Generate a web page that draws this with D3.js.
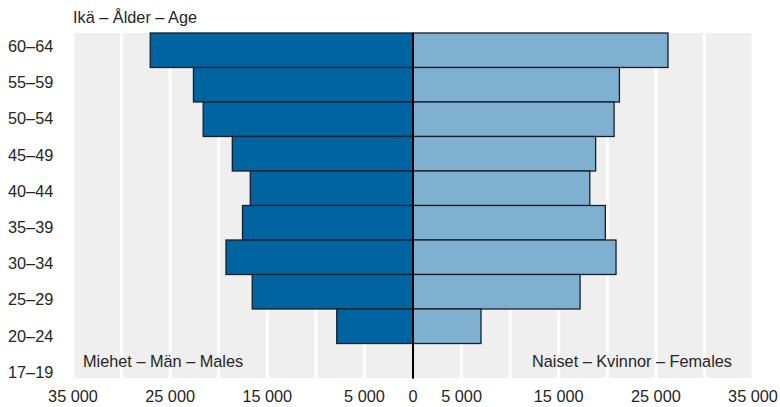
<!DOCTYPE html>
<html><head><meta charset="utf-8">
<script src="https://cdn.jsdelivr.net/npm/d3@7"></script>
<style>body{margin:0;background:#fff;} text{font-family:"Liberation Sans",Arial,sans-serif;fill:#262626;}</style>
</head><body><svg id="c" width="780" height="407"></svg>
<script>
const ageGroups = ["60–64","55–59","50–54","45–49","40–44","35–39","30–34","25–29","20–24","17–19"];
const males   = [27050,22600,21600,18600,16750,17550,19250,16550,7850,40];
const females = [26250,21250,20700,18800,18200,19800,20900,17200,7000,40];
const tickValues = [-35000,-25000,-15000,-5000,0,5000,15000,25000,35000];
const gridValues = [-35000,-30000,-25000,-20000,-15000,-10000,-5000,5000,10000,15000,20000,25000,30000,35000];
const title = "Ikä – Ålder – Age";
const maleLabel = "Miehet – Män – Males";
const femaleLabel = "Naiset – Kvinnor – Females";

const svg = d3.select("#c");
const L = 73, R = 753, T = 33, B = 378;
const FS = 16.3;
const x = d3.scaleLinear().domain([-35000,35000]).range([L,R]);
const y = d3.scaleBand().domain(ageGroups).range([T,B]).padding(0);
const yLab = d3.scalePoint().domain(ageGroups).range([46,372]);

svg.append("rect").attr("x",L).attr("y",T).attr("width",R-L).attr("height",B-T).attr("fill","#efefef");
svg.selectAll("line.grid").data(gridValues).enter().append("line")
  .attr("x1",d=>x(d)).attr("x2",d=>x(d)).attr("y1",T).attr("y2",B)
  .attr("stroke","#fff").attr("stroke-width",3);

svg.selectAll("rect.m").data(ageGroups).enter().append("rect")
  .attr("x",(d,i)=>x(-males[i])).attr("width",(d,i)=>x(0)-x(-males[i]))
  .attr("y",d=>y(d)).attr("height",y.bandwidth())
  .attr("fill","#0064a0").attr("stroke","#14202a").attr("stroke-width",1.3);
svg.selectAll("rect.f").data(ageGroups).enter().append("rect")
  .attr("x",x(0)).attr("width",(d,i)=>x(females[i])-x(0))
  .attr("y",d=>y(d)).attr("height",y.bandwidth())
  .attr("fill","#7fb0d0").attr("stroke","#14202a").attr("stroke-width",1.3);

svg.append("line").attr("x1",x(0)).attr("x2",x(0)).attr("y1",T).attr("y2",B)
  .attr("stroke","#000").attr("stroke-width",2);

svg.selectAll("text.age").data(ageGroups).enter().append("text")
  .attr("x",8).attr("y",d=>yLab(d)).attr("dy","0.36em")
  .attr("font-size",FS).text(d=>d);

svg.selectAll("text.tick").data(tickValues).enter().append("text")
  .attr("x",d=>x(d)).attr("y",402).attr("text-anchor","middle")
  .attr("font-size",FS).text(d=>d3.format(",")(Math.abs(d)).replace(/,/g," "));

svg.append("text").attr("x",73).attr("y",23).attr("font-size",FS).text(title);
svg.append("text").attr("x",83).attr("y",367).attr("font-size",FS).text(maleLabel);
svg.append("text").attr("x",732).attr("y",367).attr("text-anchor","end").attr("font-size",FS).text(femaleLabel);
</script></body></html>
